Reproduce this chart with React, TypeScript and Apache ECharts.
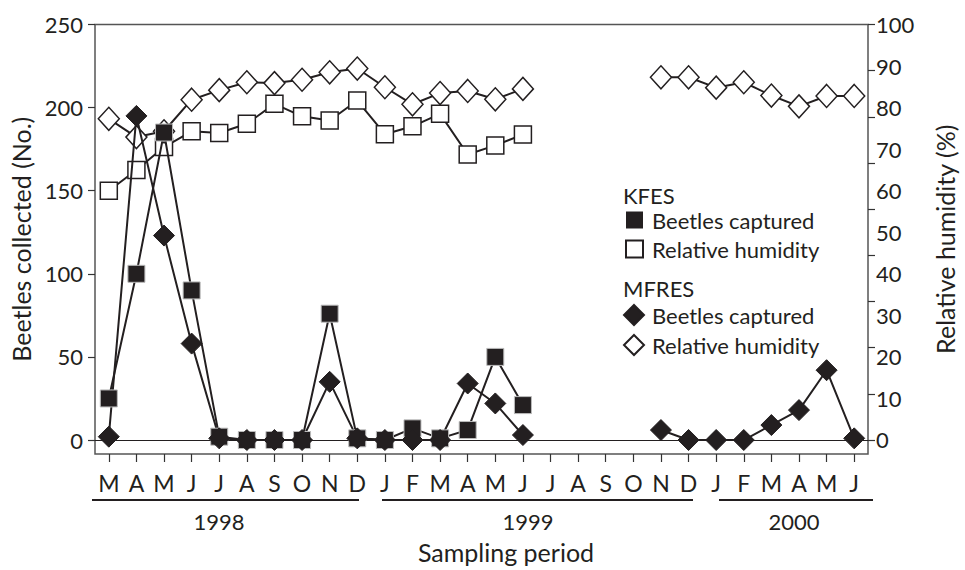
import React, { useEffect, useRef } from "react";
import * as echarts from "echarts";

const months = ["M","A","M","J","J","A","S","O","N","D","J","F","M","A","M","J","J","A","S","O","N","D","J","F","M","A","M","J"];
const years = ["1998", "1999", "2000"];

const kfesBeetles = [25,100,185,90,2,0,0,0,76,1,0,7,1,6,50,21,null,null,null,null,null,null,null,null,null,null,null,null];
const kfesRH = [60,65,70.5,74.3,73.9,76.1,80.9,77.9,76.9,81.7,73.6,75.5,78.5,68.7,70.9,73.5,null,null,null,null,null,null,null,null,null,null,null,null];
const mfresBeetles = [2,195,123,58,1,0,0,0,35,1,0,0,0,34,22,3,null,null,null,null,6,0,0,0,9,18,42,1];
const mfresRH = [77.3,72.9,74.3,81.9,84.2,86.1,85.9,86.7,88.5,89.4,84.9,80.8,83.5,84.0,82.0,84.5,null,null,null,null,87.3,87.3,84.8,86.1,82.9,80.3,82.8,82.8];

const leftLabels = [0, 50, 100, 150, 200, 250];
const rightLabels = [0, 10, 20, 30, 40, 50, 60, 70, 80, 90, 100];
const rightTicks = [0, 1, 2, 3, 4, 5, 6, 7, 8, 9].map((i) => (i * 100) / 9);

// layout (pixels)
const FONT = "Lato";
const INK = "#231f20";
const TITLE = 25;
const yearLayout = [
  { x1: 92, x2: 359, cx: 219 },
  { x1: 382, x2: 693, cx: 528 },
  { x1: 719, x2: 873, cx: 794 },
];

export default function App() {
  const ref = useRef<HTMLDivElement>(null);
  useEffect(() => {
    if (!ref.current) return;
    const chart = echarts.init(ref.current, null, { renderer: "svg" });
    const strip = (n: string) => n.replace(/^\S+ /, "");
    const graphics: any[] = [];
    yearLayout.forEach((y, i) => {
      graphics.push({
        type: "line",
        shape: { x1: y.x1, y1: 500, x2: y.x2, y2: 500 },
        style: { stroke: INK, lineWidth: 2 },
      });
      graphics.push({
        type: "text",
        x: y.cx,
        y: 521,
        style: { text: years[i], font: `22px ${FONT}`, fill: INK, align: "center", verticalAlign: "middle" },
      });
    });
    graphics.push({
      type: "text",
      x: 506,
      y: 552,
      style: { text: "Sampling period", font: `${TITLE}px ${FONT}`, fill: INK, align: "center", verticalAlign: "middle" },
    });
    graphics.push({
      type: "text",
      x: 623,
      y: 195,
      style: { text: "KFES", font: `22px ${FONT}`, fill: INK, align: "left", verticalAlign: "middle" },
    });
    graphics.push({
      type: "text",
      x: 623,
      y: 288,
      style: { text: "MFRES", font: `22px ${FONT}`, fill: INK, align: "left", verticalAlign: "middle" },
    });

    const lineStyle = { color: INK, width: 2 };
    chart.setOption({
      animation: false,
      textStyle: { fontFamily: FONT },
      grid: {
        left: 95,
        right: 85,
        top: 24.5,
        bottom: 116,
        show: true,
        borderColor: "#555",
        borderWidth: 1.5,
        backgroundColor: "transparent",
      },
      legend: [
        {
          orient: "vertical",
          left: 625,
          top: 209,
          padding: 0,
          itemWidth: 17,
          itemHeight: 17,
          itemGap: 7,
          selectedMode: false,
          formatter: strip,
          textStyle: { fontSize: 22, lineHeight: 17, color: INK, fontFamily: FONT, padding: [0, 0, 0, 4] },
          data: [
            { name: "KFES Beetles captured", icon: "rect", itemStyle: { borderWidth: 0 } },
            { name: "KFES Relative humidity", icon: "rect" },
          ],
        },
        {
          orient: "vertical",
          left: 623,
          top: 304,
          padding: 0,
          itemWidth: 20,
          itemHeight: 20,
          itemGap: 8,
          selectedMode: false,
          formatter: strip,
          textStyle: { fontSize: 22, lineHeight: 20, color: INK, fontFamily: FONT, padding: [0, 0, 0, 3] },
          data: [
            { name: "MFRES Beetles captured", icon: "diamond" },
            { name: "MFRES Relative humidity", icon: "diamond" },
          ],
        },
      ],
      xAxis: {
        type: "category",
        data: months,
        boundaryGap: true,
        axisLine: { show: false, onZero: false },
        axisTick: { show: true, alignWithLabel: true, length: 8, lineStyle: { color: "#333", width: 1.2 } },
        axisLabel: { fontSize: 23, color: INK, margin: 17, interval: 0, fontFamily: FONT },
        splitLine: { show: false },
      },
      yAxis: [
        {
          type: "value",
          min: -8.42,
          max: 250,
          name: "Beetles collected (No.)",
          nameLocation: "middle",
          nameRotate: 90,
          nameGap: 59,
          nameTextStyle: { fontSize: TITLE, color: INK, fontFamily: FONT },
          axisLine: { show: false },
          axisTick: { show: true, length: 7, customValues: leftLabels, lineStyle: { color: "#333", width: 1.2 } },
          axisLabel: { fontSize: 22, color: INK, margin: 12, customValues: leftLabels, fontFamily: FONT },
          splitLine: { show: false },
        },
        {
          type: "value",
          min: -3.37,
          max: 100,
          position: "right",
          name: "Relative humidity (%)",
          nameLocation: "middle",
          nameRotate: 90,
          nameGap: 64,
          nameTextStyle: { fontSize: TITLE, color: INK, fontFamily: FONT },
          axisLine: { show: false },
          axisTick: { show: true, length: 7, customValues: rightTicks, lineStyle: { color: "#333", width: 1.2 } },
          axisLabel: { fontSize: 22, color: INK, margin: 8, customValues: rightLabels, fontFamily: FONT },
          splitLine: { show: false },
        },
      ],
      series: [
        {
          name: "KFES Relative humidity",
          type: "line",
          yAxisIndex: 1,
          data: kfesRH,
          symbol: "rect",
          symbolSize: 17,
          showAllSymbol: true,
          connectNulls: false,
          lineStyle,
          itemStyle: { color: "#fff", borderColor: INK, borderWidth: 1.5 },
          z: 3,
        },
        {
          name: "MFRES Relative humidity",
          type: "line",
          yAxisIndex: 1,
          data: mfresRH,
          symbol: "diamond",
          symbolSize: [21, 23],
          showAllSymbol: true,
          connectNulls: false,
          lineStyle,
          itemStyle: { color: "#fff", borderColor: INK, borderWidth: 1.5 },
          z: 3,
        },
        {
          name: "KFES Beetles captured",
          type: "line",
          yAxisIndex: 0,
          data: kfesBeetles,
          symbol: "rect",
          symbolSize: 17,
          showAllSymbol: true,
          connectNulls: false,
          lineStyle,
          itemStyle: { color: INK, borderColor: "#bbb", borderWidth: 1 },
          z: 4,
          markLine: {
            silent: true,
            symbol: "none",
            label: { show: false },
            lineStyle: { color: INK, width: 1, type: "solid" },
            data: [{ yAxis: 0 }],
            z: 1,
          },
        },
        {
          name: "MFRES Beetles captured",
          type: "line",
          yAxisIndex: 0,
          data: mfresBeetles,
          symbol: "diamond",
          symbolSize: [21, 21],
          showAllSymbol: true,
          connectNulls: false,
          lineStyle,
          itemStyle: { color: INK, borderColor: INK, borderWidth: 1 },
          z: 4,
        },
      ],
      graphic: graphics,
    });
    return () => chart.dispose();
  }, []);
  return <div ref={ref} style={{ width: 965, height: 570, position: "absolute", left: 0, top: 0 }} />;
}
